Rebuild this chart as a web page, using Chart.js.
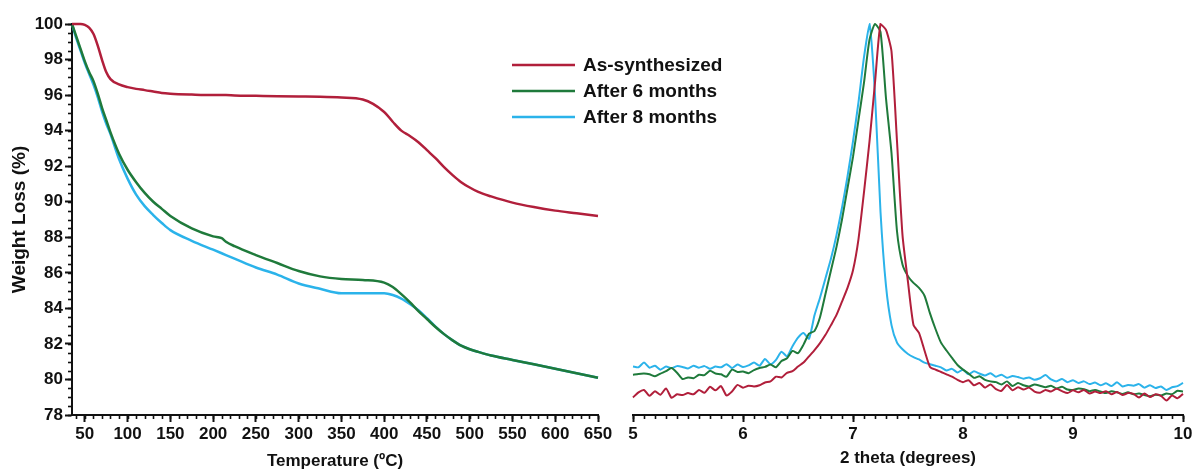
<!DOCTYPE html>
<html>
<head>
<meta charset="utf-8">
<script src="https://cdn.jsdelivr.net/npm/chart.js@4.4.1/dist/chart.umd.min.js"></script>
<style>
  body { margin: 0; background: #fff; }
  #wrap { position: relative; width: 1195px; height: 473px; }
  canvas { position: absolute; top: 0; }
  #tga { left: 0; }
  #xrd { left: 610px; }
</style>
</head>
<body>
<div id="wrap">
  <canvas id="tga" width="760" height="473"></canvas>
  <canvas id="xrd" width="585" height="473"></canvas>
</div>
<script>
// Series names and colours
const seriesNames = ['As-synthesized', 'After 6 months', 'After 8 months'];
const seriesColors = ['#b11f3b', '#1f7a3b', '#2bb3ea'];

// TGA: temperature (ºC) and weight (%)
const tgaTemp = [35, 40, 45, 50, 55, 60, 65, 70, 75, 80, 90, 100, 110, 120, 130, 140, 150, 175, 200, 210, 215, 225, 250, 275, 300, 325, 350, 375, 400, 410, 420, 430, 440, 450, 460, 470, 480, 490, 500, 510, 525, 550, 575, 600, 625, 650];
const tgaAsSynth = [100, 100, 100, 99.95, 99.8, 99.45, 98.8, 98.0, 97.3, 96.9, 96.6, 96.45, 96.35, 96.28, 96.2, 96.12, 96.08, 96.03, 96.0, 96.0, 96.0, 95.98, 95.96, 95.94, 95.92, 95.9, 95.86, 95.75, 95.05, 94.5, 94.0, 93.7, 93.35, 92.9, 92.45, 91.95, 91.5, 91.1, 90.8, 90.55, 90.3, 89.95, 89.7, 89.5, 89.35, 89.2];
const tga6Months = [100, 99.3, 98.6, 97.9, 97.3, 96.8, 96.1, 95.3, 94.6, 93.9, 92.7, 91.8, 91.1, 90.5, 90.0, 89.6, 89.2, 88.5, 88.05, 87.95, 87.75, 87.5, 87.0, 86.55, 86.1, 85.8, 85.65, 85.6, 85.45, 85.2, 84.8, 84.35, 83.85, 83.4, 82.95, 82.55, 82.2, 81.9, 81.7, 81.55, 81.35, 81.1, 80.85, 80.6, 80.35, 80.1];
const tga8Months = [100, 99.2, 98.5, 97.8, 97.2, 96.6, 95.9, 95.1, 94.4, 93.8, 92.4, 91.3, 90.4, 89.75, 89.25, 88.8, 88.4, 87.8, 87.3, 87.1, 87.0, 86.8, 86.3, 85.9, 85.4, 85.1, 84.85, 84.85, 84.85, 84.75, 84.55, 84.25, 83.9, 83.45, 82.97, 82.55, 82.2, 81.9, 81.7, 81.55, 81.35, 81.1, 80.85, 80.6, 80.35, 80.1];
const tgaTicksX = [50, 100, 150, 200, 250, 300, 350, 400, 450, 500, 550, 600, 650];

// XRD: 2 theta (degrees) and intensity (a.u.)
const twoTheta = [5.00, 5.05, 5.10, 5.15, 5.20, 5.25, 5.30, 5.35, 5.40, 5.45, 5.50, 5.55, 5.60, 5.65, 5.70, 5.75, 5.80, 5.85, 5.90, 5.95,
  6.00, 6.05, 6.10, 6.15, 6.20, 6.25, 6.30, 6.35, 6.40, 6.45, 6.50, 6.55, 6.60, 6.65, 6.70, 6.75, 6.80, 6.85, 6.90, 6.95,
  7.00, 7.05, 7.10, 7.15, 7.20, 7.25, 7.30, 7.35, 7.40, 7.45, 7.50, 7.55, 7.60, 7.65, 7.70, 7.75, 7.80, 7.85, 7.90, 7.95,
  8.00, 8.05, 8.10, 8.15, 8.20, 8.25, 8.30, 8.35, 8.40, 8.45, 8.50, 8.55, 8.60, 8.65, 8.70, 8.75, 8.80, 8.85, 8.90, 8.95,
  9.00, 9.05, 9.10, 9.15, 9.20, 9.25, 9.30, 9.35, 9.40, 9.45, 9.50, 9.55, 9.60, 9.65, 9.70, 9.75, 9.80, 9.85, 9.90, 9.95, 10.00];
const xrdAsSynth = [4.5, 5.8, 6.4, 4.9, 6.1, 5.2, 6.8, 4.4, 5.3, 5.1, 5.6, 5.3, 6.4, 5.7, 7.2, 6.3, 7.4, 5.0, 6.0, 7.7,
  7.0, 7.5, 7.3, 7.6, 8.3, 8.6, 9.8, 9.6, 10.8, 11.2, 12.4, 13.4, 15.0, 16.6, 18.4, 20.5, 23.0, 25.6, 29.0, 32.5,
  37.0, 45.0, 57.0, 70.0, 85.0, 100, 98.5, 93.0, 70.0, 46.0, 34.0, 23.0, 21.0, 16.5, 12.3, 11.6, 11.0, 10.4, 9.8, 9.0,
  8.4, 8.9, 7.6, 8.2, 7.0, 7.8, 6.6, 6.2, 7.7, 6.3, 7.1, 6.5, 7.0, 6.0, 5.7, 6.4, 6.0, 6.7, 6.1, 5.6,
  6.3, 5.8, 6.4, 5.5, 6.0, 5.6, 6.1, 5.3, 5.9, 5.1, 5.6, 5.4, 4.5, 5.5, 4.6, 5.3, 4.9, 3.7, 5.0, 4.3, 5.4];
const xrd6Months = [10.3, 10.5, 10.6, 10.4, 9.9, 10.6, 11.2, 12.0, 10.8, 9.2, 9.6, 9.4, 10.3, 10.2, 11.3, 10.6, 10.4, 9.8, 11.6, 11.0,
  11.1, 10.7, 11.5, 12.0, 12.3, 12.9, 12.2, 13.8, 14.5, 16.4, 15.8, 18.0, 20.8, 21.5, 25.0, 31.0, 37.0, 43.0, 50.0, 58.0,
  66.0, 75.5, 85.0, 96.0, 100, 98.0, 81.0, 67.0, 47.0, 38.5, 35.5, 33.8, 32.5, 30.5, 26.0, 22.0, 18.5, 16.5, 14.6, 12.8,
  11.6, 10.6, 9.5, 9.9, 9.0, 8.6, 8.4, 7.8, 8.6, 7.4, 8.2, 7.6, 7.3, 7.8, 7.5, 7.1, 7.5, 6.8, 7.2, 6.5,
  6.4, 6.8, 6.6, 6.1, 6.4, 6.0, 5.6, 6.1, 5.8, 5.4, 5.8, 5.3, 5.5, 5.1, 4.8, 5.2, 5.0, 5.5, 5.3, 6.2, 6.0];
const xrd8Months = [12.4, 12.2, 13.4, 12.1, 12.6, 11.6, 12.4, 12.0, 12.5, 12.3, 11.9, 12.6, 12.1, 12.5, 11.8, 12.4, 12.2, 13.0, 12.0, 12.9,
  12.3, 12.7, 13.4, 12.6, 14.3, 13.0, 14.1, 16.2, 15.0, 17.6, 19.8, 21.0, 19.5, 25.5, 30.0, 35.0, 40.0, 46.0, 53.0, 61.0,
  70.0, 80.0, 91.5, 100, 82.0, 52.0, 33.0, 23.0, 18.5, 16.8, 15.6, 14.8, 14.2, 13.4, 13.0, 12.6, 12.2, 11.4, 11.8, 10.9,
  11.6, 10.4, 11.2, 10.6, 10.1, 10.7, 9.8, 10.3, 9.5, 10.0, 9.7, 9.3, 9.6, 9.0, 9.4, 10.2, 9.1, 8.6, 9.2, 8.4,
  8.9, 8.2, 8.6, 7.9, 8.3, 7.6, 8.1, 7.4, 8.4, 7.3, 7.7, 7.5, 7.9, 7.0, 7.6, 6.9, 7.3, 6.4, 7.1, 7.4, 8.2];

const FONT = '"Liberation Sans", Arial, sans-serif';
const INK = '#111';

function pairs(xs, ys) {
  return xs.map((x, i) => ({ x: x, y: ys[i] }));
}

function lineSet(label, color, xs, ys, width, smooth) {
  return {
    label: label,
    data: pairs(xs, ys),
    borderColor: color,
    borderWidth: width,
    pointRadius: 0,
    fill: false,
    clip: false,
    cubicInterpolationMode: smooth ? 'monotone' : 'default',
    tension: smooth ? 0 : 0.2
  };
}

// small ticks between the labelled ones
const minorTicks = {
  id: 'minorTicks',
  afterDraw(chart, args, opts) {
    const ctx = chart.ctx;
    const area = chart.chartArea;
    ctx.save();
    ctx.strokeStyle = INK;
    ctx.lineWidth = 1.6;
    (opts.axes || []).forEach(a => {
      const scale = chart.scales[a.id];
      const n = Math.round((a.to - a.from) / a.step);
      for (let i = 0; i <= n; i++) {
        const v = a.from + i * a.step;
        const p = Math.round(scale.getPixelForValue(v)) + 0.5;
        ctx.beginPath();
        if (a.id === 'x') {
          ctx.moveTo(p, area.bottom);
          ctx.lineTo(p, area.bottom + a.len);
        } else {
          ctx.moveTo(area.left, p);
          ctx.lineTo(area.left - a.len, p);
        }
        ctx.stroke();
      }
    });
    ctx.restore();
  }
};

// key drawn at the top middle of the figure
const seriesKey = {
  id: 'seriesKey',
  afterDraw(chart, args, opts) {
    const ctx = chart.ctx;
    ctx.save();
    ctx.font = 'bold ' + opts.size + 'px ' + FONT;
    ctx.textBaseline = 'middle';
    ctx.fillStyle = INK;
    chart.data.datasets.forEach((ds, i) => {
      const y = opts.y + i * opts.gap;
      ctx.strokeStyle = ds.borderColor;
      ctx.lineWidth = 2.5;
      ctx.beginPath();
      ctx.moveTo(opts.x, y);
      ctx.lineTo(opts.x + opts.lineLen, y);
      ctx.stroke();
      ctx.fillText(ds.label, opts.x + opts.lineLen + 8, y + 1);
    });
    ctx.restore();
  }
};

const tickFont = { family: FONT, size: 17, weight: 'bold' };
const titleFont = { family: FONT, size: 17, weight: 'bold' };

// left panel: thermogravimetric curves
new Chart(document.getElementById('tga'), {
  type: 'line',
  data: {
    datasets: [
      lineSet(seriesNames[0], seriesColors[0], tgaTemp, tgaAsSynth, 2.5, true),
      lineSet(seriesNames[1], seriesColors[1], tgaTemp, tga6Months, 2.5, true),
      lineSet(seriesNames[2], seriesColors[2], tgaTemp, tga8Months, 2.5, true)
    ]
  },
  options: {
    responsive: false,
    animation: false,
    layout: { padding: { left: 0, right: 162, top: 24, bottom: 0 } },
    plugins: {
      legend: { display: false },
      tooltip: { enabled: false },
      minorTicks: { axes: [
        { id: 'x', from: 40, to: 650, step: 10, len: 4 },
        { id: 'y', from: 78, to: 100, step: 0.5, len: 4 }
      ] },
      seriesKey: { x: 512, y: 65, gap: 26, lineLen: 63, size: 19 }
    },
    scales: {
      x: {
        type: 'linear',
        min: 35,
        max: 650,
        afterBuildTicks: s => { s.ticks = tgaTicksX.map(v => ({ value: v })); },
        afterFit: s => { s.height = 58; },
        border: { display: true, color: INK, width: 2 },
        grid: { drawOnChartArea: false, drawTicks: true, tickLength: 7, tickWidth: 2, tickColor: INK },
        ticks: { color: INK, font: tickFont, padding: 2, maxRotation: 0, autoSkip: false },
        title: { display: true, text: 'Temperature (ºC)', color: INK, font: titleFont, padding: { top: 0, bottom: 1 } }
      },
      y: {
        min: 78,
        max: 100,
        afterFit: s => { s.width = 72; },
        border: { display: true, color: INK, width: 2 },
        grid: { drawOnChartArea: false, drawTicks: true, tickLength: 7, tickWidth: 2, tickColor: INK },
        ticks: { stepSize: 2, color: INK, font: tickFont, padding: 2 },
        title: { display: true, text: 'Weight Loss (%)', color: INK, font: { family: FONT, size: 19, weight: 'bold' }, padding: { top: 8, bottom: 0 } }
      }
    }
  },
  plugins: [minorTicks, seriesKey]
});

// right panel: low-angle diffraction patterns
new Chart(document.getElementById('xrd'), {
  type: 'line',
  data: {
    datasets: [
      lineSet(seriesNames[0], seriesColors[0], twoTheta, xrdAsSynth, 2, false),
      lineSet(seriesNames[1], seriesColors[1], twoTheta, xrd6Months, 2, false),
      lineSet(seriesNames[2], seriesColors[2], twoTheta, xrd8Months, 2, false)
    ]
  },
  options: {
    responsive: false,
    animation: false,
    layout: { padding: { left: 23, right: 12, top: 24, bottom: 0 } },
    plugins: {
      legend: { display: false },
      tooltip: { enabled: false },
      minorTicks: { axes: [
        { id: 'x', from: 5, to: 10, step: 0.1, len: 4 }
      ] }
    },
    scales: {
      x: {
        type: 'linear',
        min: 5,
        max: 10,
        afterFit: s => { s.height = 58; },
        border: { display: true, color: INK, width: 2 },
        grid: { drawOnChartArea: false, drawTicks: true, tickLength: 7, tickWidth: 2, tickColor: INK },
        ticks: { stepSize: 1, color: INK, font: tickFont, padding: 2, maxRotation: 0 },
        title: { display: true, text: '2 theta (degrees)', color: INK, font: titleFont, padding: { top: 0, bottom: 4 } }
      },
      y: {
        display: false,
        min: 0,
        max: 100
      }
    }
  },
  plugins: [minorTicks]
});
</script>
</body>
</html>
